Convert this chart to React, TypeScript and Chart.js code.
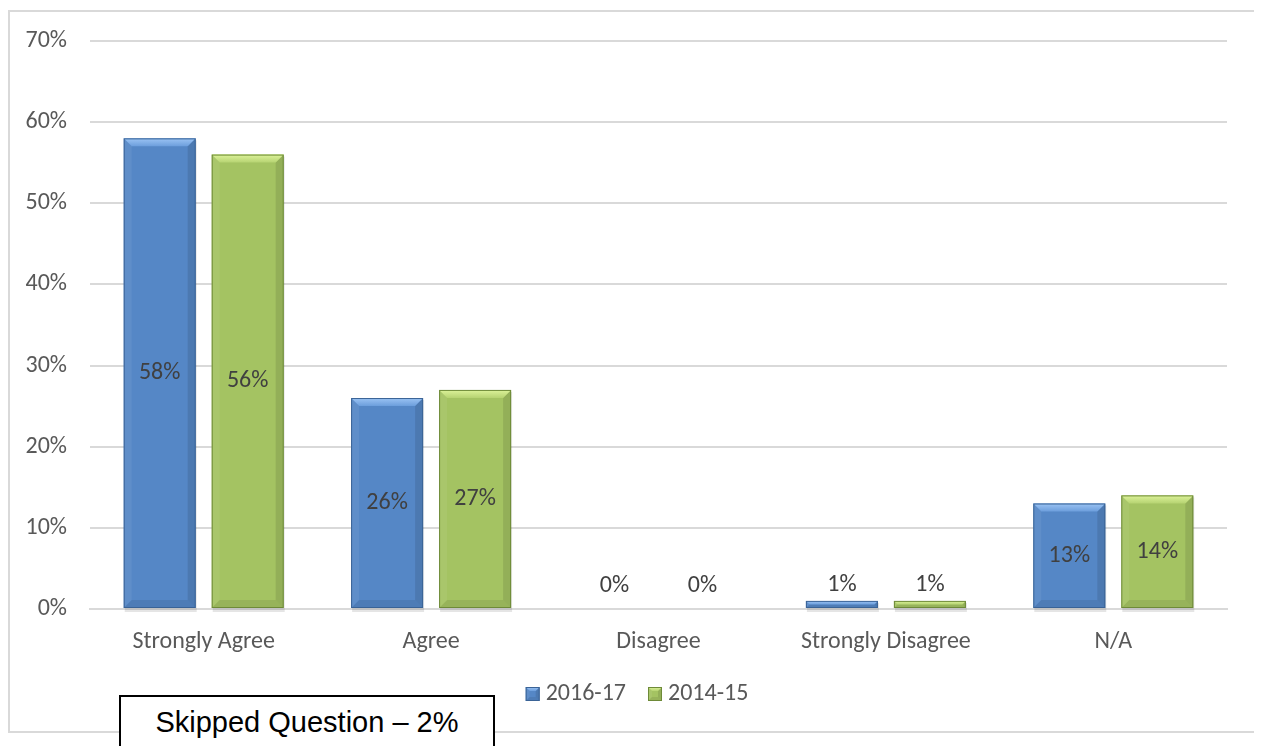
import React, { useEffect, useRef } from "react";
import { Chart, registerables } from "chart.js";

Chart.register(...registerables);

const categories = ["Strongly Agree", "Agree", "Disagree", "Strongly Disagree", "N/A"];
const seriesNames = ["2016-17", "2014-15"];
const values2016 = [58, 26, 0, 1, 13];
const values2014 = [56, 27, 0, 1, 14];
const yMax = 70;
const yStep = 10;
const skippedNote = "Skipped Question \u2013 2%";

const FONT = "Calibri, Carlito, Lato, sans-serif";
const FS = 24;

const palettes = [
  { base: "#5587C6", light: "#9CC4F4", mid: "#6C9EDC", dark: "#3A6396" },
  { base: "#A4C362", light: "#DDF39A", mid: "#B6D372", dark: "#6E8A38" },
];

function bevelRect(
  ctx: CanvasRenderingContext2D,
  left: number,
  top: number,
  width: number,
  h: number,
  pal: { base: string; light: string; mid: string; dark: string },
  maxB: number
) {
  const right = left + width;
  const bottom = top + h;
  const b = Math.min(maxB, h / 2, width / 2);
  ctx.save();
  ctx.fillStyle = "rgba(255,255,255,0.06)";
  ctx.beginPath();
  ctx.moveTo(left, top);
  ctx.lineTo(left + b, top + b);
  ctx.lineTo(left + b, bottom - b);
  ctx.lineTo(left, bottom);
  ctx.closePath();
  ctx.fill();
  ctx.fillStyle = "rgba(0,0,0,0.10)";
  ctx.beginPath();
  ctx.moveTo(right, top);
  ctx.lineTo(right - b, top + b);
  ctx.lineTo(right - b, bottom - b);
  ctx.lineTo(right, bottom);
  ctx.closePath();
  ctx.fill();
  ctx.fillStyle = "rgba(0,0,0,0.08)";
  ctx.beginPath();
  ctx.moveTo(left, bottom);
  ctx.lineTo(left + b, bottom - b);
  ctx.lineTo(right - b, bottom - b);
  ctx.lineTo(right, bottom);
  ctx.closePath();
  ctx.fill();
  const g = ctx.createLinearGradient(0, top, 0, top + b);
  g.addColorStop(0, pal.light);
  g.addColorStop(1, pal.mid);
  ctx.fillStyle = g;
  ctx.beginPath();
  ctx.moveTo(left, top);
  ctx.lineTo(right, top);
  ctx.lineTo(right - b, top + b);
  ctx.lineTo(left + b, top + b);
  ctx.closePath();
  ctx.fill();
  ctx.strokeStyle = pal.dark;
  ctx.lineWidth = 1;
  ctx.strokeRect(left + 0.5, top + 0.5, width - 1, h - 1);
  ctx.restore();
}

const bevelPlugin = {
  id: "bevelAndLabels",
  beforeDatasetsDraw(chart: any) {
    const ctx = chart.ctx as CanvasRenderingContext2D;
    chart.data.datasets.forEach((_ds: any, di: number) => {
      const meta = chart.getDatasetMeta(di);
      meta.data.forEach((bar: any) => {
        const { x, y, base, width } = bar.getProps(["x", "y", "base", "width"], true);
        const top = Math.min(y, base);
        const h = Math.max(y, base) - top;
        if (h < 0.5) return;
        ctx.save();
        ctx.fillStyle = "rgba(0,0,0,0.10)";
        ctx.fillRect(x - width / 2 + 1, top + 2, width, h + 2);
        ctx.restore();
      });
    });
  },
  afterDatasetsDraw(chart: any) {
    const ctx = chart.ctx as CanvasRenderingContext2D;
    chart.data.datasets.forEach((ds: any, di: number) => {
      const meta = chart.getDatasetMeta(di);
      const pal = palettes[di];
      meta.data.forEach((bar: any, i: number) => {
        const { x, y, base, width } = bar.getProps(["x", "y", "base", "width"], true);
        const top = Math.min(y, base);
        const bottom = Math.max(y, base);
        const h = bottom - top;
        if (h > 0.5) bevelRect(ctx, x - width / 2, top, width, h, pal, 8);
        const v = ds.data[i];
        ctx.save();
        ctx.font = `${FS}px ${FONT}`;
        ctx.fillStyle = "#404040";
        ctx.textAlign = "center";
        ctx.textBaseline = "middle";
        let ly: number;
        if (h > 30) ly = (top + bottom) / 2;
        else ly = Math.min(top - 15, bottom - 23);
        ctx.fillText(`${v}%`, x, ly);
        ctx.restore();
      });
    });
  },
  afterDraw(chart: any) {
    const ctx = chart.ctx as CanvasRenderingContext2D;
    ctx.save();
    ctx.font = `${FS}px ${FONT}`;
    const box = 14;
    const gapBoxText = 6;
    const gapItems = 22;
    const items = chart.data.datasets.map((ds: any) => ({
      text: ds.label as string,
      w: ctx.measureText(ds.label).width,
    }));
    const total =
      items.reduce((s: number, it: any) => s + box + gapBoxText + it.w, 0) +
      gapItems * (items.length - 1);
    const cx = 627;
    const cy = 682;
    let x = cx - total / 2;
    items.forEach((it: any, i: number) => {
      const pal = palettes[i];
      ctx.fillStyle = pal.base;
      ctx.fillRect(x, cy - box / 2, box, box);
      bevelRect(ctx, x, cy - box / 2, box, box, pal, 4);
      x += box + gapBoxText;
      ctx.fillStyle = "#595959";
      ctx.textAlign = "left";
      ctx.textBaseline = "middle";
      ctx.fillText(it.text, x, cy);
      x += it.w + gapItems;
    });
    ctx.restore();
  },
};

export default function App() {
  const ref = useRef<HTMLCanvasElement>(null);
  useEffect(() => {
    if (!ref.current) return;
    const chart = new Chart(ref.current, {
      type: "bar",
      data: {
        labels: categories,
        datasets: [
          {
            label: seriesNames[0],
            data: values2016,
            backgroundColor: palettes[0].base,
            borderWidth: 0,
            categoryPercentage: 0.774,
            barPercentage: 0.818,
          },
          {
            label: seriesNames[1],
            data: values2014,
            backgroundColor: palettes[1].base,
            borderWidth: 0,
            categoryPercentage: 0.774,
            barPercentage: 0.818,
          },
        ],
      },
      options: {
        responsive: false,
        animation: false,
        layout: { padding: { top: 29, right: 28, bottom: 72, left: 0 } },
        plugins: {
          tooltip: { enabled: false },
          legend: { display: false },
        },
        scales: {
          x: {
            afterFit: (s: any) => {
              s.height = 50;
            },
            grid: { display: false, drawTicks: false },
            border: { display: true, color: "#d9d9d9", width: 2 },
            ticks: { color: "#595959", font: { family: FONT, size: FS }, padding: 19 },
          },
          y: {
            min: 0,
            max: yMax,
            afterFit: (s: any) => {
              s.width = 80;
              s.paddingTop = 0;
              s.paddingBottom = 0;
            },
            grid: { color: "#d9d9d9", lineWidth: 2, drawTicks: false },
            border: { display: false },
            ticks: {
              stepSize: yStep,
              color: "#595959",
              font: { family: FONT, size: FS },
              padding: 23,
              callback: (v: any) => `${v}%`,
            },
          },
        },
      },
      plugins: [bevelPlugin],
    });
    return () => chart.destroy();
  }, []);

  return (
    <div style={{ position: "relative", width: 1250, height: 738, overflow: "hidden" }}>
      <div
        style={{
          position: "absolute",
          left: 0,
          top: 2,
          width: 1249,
          height: 723,
          border: "2px solid #d9d9d9",
          boxSizing: "border-box",
          background: "#fff",
        }}
      >
        <canvas ref={ref} width={1245} height={719} style={{ display: "block" }} />
      </div>
      <div
        style={{
          position: "absolute",
          left: 111,
          top: 687,
          width: 376,
          height: 80,
          border: "2px solid #000",
          boxSizing: "border-box",
          background: "#fff",
          fontFamily: "'Liberation Sans', Arial, sans-serif",
          fontSize: 29,
          textAlign: "center",
          lineHeight: "33px",
          paddingTop: 9,
          color: "#000",
        }}
      >
        {skippedNote}
      </div>
    </div>
  );
}
